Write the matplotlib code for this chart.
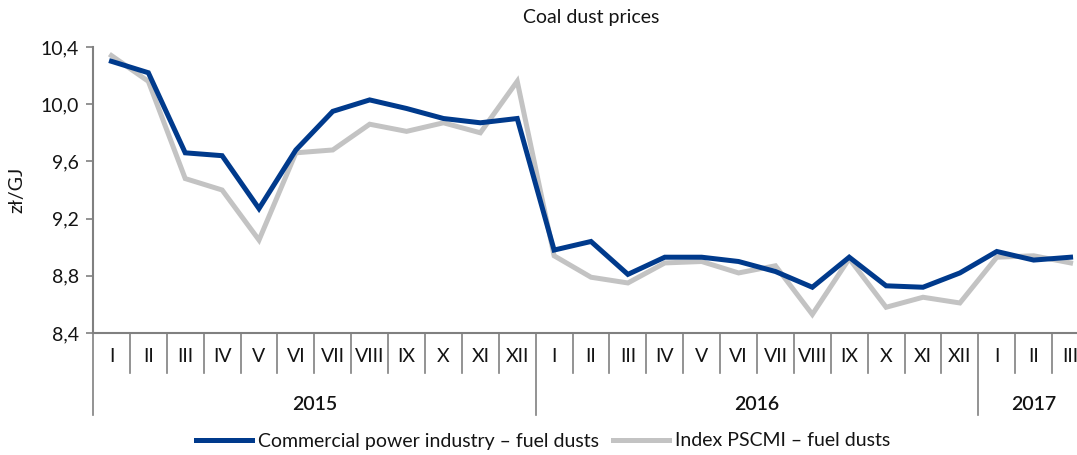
import matplotlib
matplotlib.use("Agg")
import matplotlib.pyplot as plt
from matplotlib.ticker import FuncFormatter

plt.rcParams["font.family"] = ["Lato", "DejaVu Sans"]

months = ["I", "II", "III", "IV", "V", "VI", "VII", "VIII", "IX", "X", "XI", "XII",
          "I", "II", "III", "IV", "V", "VI", "VII", "VIII", "IX", "X", "XI", "XII",
          "I", "II", "III"]
years = ["2015", "2016", "2017"]
year_counts = [12, 12, 3]

commercial = [10.30, 10.22, 9.66, 9.64, 9.27, 9.68, 9.95, 10.03, 9.97, 9.90, 9.87, 9.90,
              8.98, 9.04, 8.81, 8.93, 8.93, 8.90, 8.83, 8.72, 8.93, 8.73, 8.72, 8.82,
              8.97, 8.91, 8.93]
pscmi = [10.34, 10.16, 9.48, 9.40, 9.05, 9.66, 9.68, 9.86, 9.81, 9.87, 9.80, 10.16,
         8.94, 8.79, 8.75, 8.89, 8.90, 8.82, 8.87, 8.53, 8.92, 8.58, 8.65, 8.61,
         8.93, 8.94, 8.89]

FS = 14
TXT = "#141414"
W, H = 1077, 455
fig = plt.figure(figsize=(W / 100, H / 100), dpi=100)
left, right, top, bottom = 93, 1089, 47, 333
ax = fig.add_axes([left / W, 1 - bottom / H, (right - left) / W, (bottom - top) / H])

x = list(range(len(months)))
ax.plot(x, commercial, color="#003A8C", linewidth=3.6, solid_joinstyle="miter",
        label="Commercial power industry – fuel dusts", zorder=3)
ax.plot(x, pscmi, color="#C3C3C3", linewidth=3.6, solid_joinstyle="miter",
        label="Index PSCMI – fuel dusts", zorder=2)

ax.set_xlim(-0.5, len(months) - 0.5)
ax.set_ylim(8.4, 10.4)
ax.set_yticks([8.4, 8.8, 9.2, 9.6, 10.0, 10.4])
ax.yaxis.set_major_formatter(FuncFormatter(lambda v, p: f"{v:.1f}".replace(".", ",")))
ax.tick_params(axis="y", labelsize=FS, labelcolor=TXT, length=5, width=1.2,
               color="#808080", pad=5)
ax.set_xticks([])
for s in ["top", "right"]:
    ax.spines[s].set_visible(False)
for s in ["left", "bottom"]:
    ax.spines[s].set_color("#808080")
    ax.spines[s].set_linewidth(1.5)
ax.set_ylabel("zł/GJ", fontsize=FS, color=TXT, labelpad=11)
ax.set_title("Coal dust prices", fontsize=FS, color=TXT, pad=17)

trans = ax.get_xaxis_transform()
h = bottom - top
sep_short = -40 / h
sep_long = -82 / h
# month labels and separators
for i, m in enumerate(months):
    ax.text(i, -24 / h, m, transform=trans, ha="center", va="center", fontsize=FS,
            color=TXT)
boundaries = []
c = 0
for n in year_counts[:-1]:
    c += n
    boundaries.append(c - 0.5)
for k in range(0, len(months) + 1):
    xb = k - 0.5
    y0 = sep_long if (xb in boundaries or k == 0) else sep_short
    ax.plot([xb, xb], [0, y0], transform=trans, color="#808080", linewidth=1.2,
            clip_on=False)
# year labels
c = 0
for yl, n in zip(years, year_counts):
    ax.text(c + (n - 1) / 2, -72 / h, yl, transform=trans, ha="center", va="center",
            fontsize=FS, color=TXT, fontweight="semibold")
    c += n

leg = fig.legend(loc="center", ncol=2, frameon=False, fontsize=FS,
                 bbox_to_anchor=(543 / W, 1 - 441 / H), handlelength=2.9,
                 columnspacing=0.7, handletextpad=0.3)
for t in leg.get_texts():
    t.set_color(TXT)

fig.savefig("out.png", dpi=100)
